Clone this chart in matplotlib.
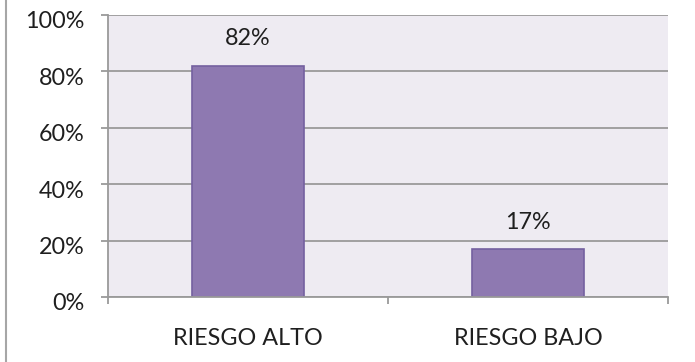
import matplotlib
matplotlib.use("Agg")
import matplotlib.pyplot as plt
import matplotlib.transforms as mtransforms
from matplotlib.lines import Line2D

categories = ["RIESGO ALTO", "RIESGO BAJO"]
values = [82, 17]
y_ticks = [0, 20, 40, 60, 80, 100]
y_tick_labels = ["0%", "20%", "40%", "60%", "80%", "100%"]

plt.rcParams["font.family"] = ["Lato", "DejaVu Sans"]
FS = 16.8
TEXT = "#1f1f1f"
GRID = "#9a9a9a"

fig = plt.figure(figsize=(6.95, 3.62), dpi=100)
ax = fig.add_axes([108 / 695, 1 - 297 / 362, 560 / 695, (297 - 15) / 362])
ax.set_facecolor("#eeebf2")

x = list(range(len(categories)))
bars = ax.bar(x, values, width=0.4, color="#8e79b1", edgecolor="#7460a0",
              linewidth=1.2, zorder=3)

for xi, v in zip(x, values):
    ax.annotate(f"{v}%", (xi, v), xytext=(0, 27), textcoords="offset pixels",
                ha="center", va="center", fontsize=FS, color=TEXT)

ax.set_xlim(-0.5, len(categories) - 0.5)
ax.set_ylim(0, 100)
ax.set_yticks(y_ticks)
ax.set_yticklabels(y_tick_labels, fontsize=FS, color=TEXT)
ax.yaxis.grid(True, color=GRID, linewidth=1.3, zorder=1)
ax.tick_params(axis="y", length=5, width=1.3, color=GRID, pad=12)
offset = mtransforms.ScaledTranslation(0, -5 / 100, fig.dpi_scale_trans)
for lbl in ax.get_yticklabels():
    lbl.set_transform(lbl.get_transform() + offset)

ax.set_xticks(x)
ax.set_xticklabels(categories, fontsize=FS, color=TEXT)
ax.tick_params(axis="x", which="major", length=0, pad=22)
ax.set_xticks([i - 0.5 for i in range(len(categories) + 1)], minor=True)
ax.tick_params(axis="x", which="minor", length=5, width=1.3, color=GRID)

for side in ("top", "right"):
    ax.spines[side].set_visible(False)
for side in ("left", "bottom"):
    ax.spines[side].set_color(GRID)
    ax.spines[side].set_linewidth(1.3)
    ax.spines[side].set_zorder(4)

# outer frame line on the left edge of the chart area
fig.add_artist(Line2D([6 / 695, 6 / 695], [0, 1], transform=fig.transFigure,
                      color="#a6a6a6", linewidth=1.5))

fig.savefig("out.png", dpi=100)
